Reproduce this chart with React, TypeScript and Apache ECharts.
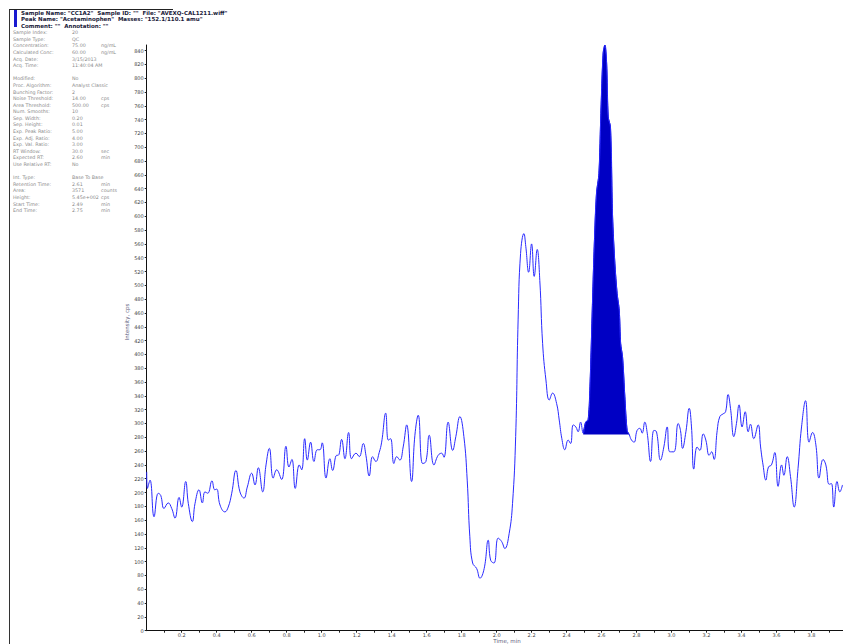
import React, { useEffect, useRef } from "react";
import * as echarts from "echarts";

const times = [
  0.0, 0.004, 0.019, 0.042, 0.066, 0.08, 0.099, 0.123, 0.143, 0.162, 0.185, 0.2, 0.223, 0.238, 0.261, 0.276,
  0.299, 0.318, 0.333, 0.349, 0.373, 0.389, 0.4, 0.419, 0.447, 0.466, 0.486, 0.51, 0.533, 0.556, 0.575, 0.6,
  0.619, 0.638, 0.663, 0.682, 0.701, 0.723, 0.743, 0.771, 0.796, 0.813, 0.83, 0.849, 0.872, 0.886, 0.903, 0.918,
  0.937, 0.956, 0.975, 0.99, 1.003, 1.025, 1.047, 1.063, 1.086, 1.095, 1.114, 1.133, 1.154, 1.171, 1.196, 1.215,
  1.238, 1.253, 1.272, 1.291, 1.31, 1.329, 1.343, 1.366, 1.381, 1.394, 1.413, 1.429, 1.447, 1.466, 1.486, 1.514,
  1.533, 1.552, 1.577, 1.596, 1.615, 1.642, 1.666, 1.686, 1.699, 1.723, 1.749, 1.767, 1.79, 1.813, 1.832, 1.847,
  1.863, 1.886, 1.905, 1.929, 1.952, 1.966, 1.985, 2.009, 2.029, 2.047, 2.072, 2.091, 2.109, 2.123, 2.137, 2.156,
  2.167, 2.183, 2.2, 2.215, 2.232, 2.247, 2.263, 2.282, 2.301, 2.32, 2.343, 2.358, 2.373, 2.39, 2.409, 2.423,
  2.438, 2.453, 2.466, 2.48, 2.495, 2.509, 2.523, 2.533, 2.549, 2.558, 2.571, 2.585, 2.596, 2.609, 2.619, 2.629,
  2.638, 2.651, 2.663, 2.676, 2.689, 2.701, 2.709, 2.72, 2.733, 2.746, 2.758, 2.771, 2.786, 2.803, 2.819, 2.832,
  2.847, 2.861, 2.88, 2.899, 2.914, 2.937, 2.956, 2.975, 2.99, 3.013, 3.038, 3.051, 3.063, 3.082, 3.101, 3.114,
  3.127, 3.146, 3.162, 3.181, 3.196, 3.215, 3.229, 3.243, 3.261, 3.276, 3.295, 3.309, 3.323, 3.337, 3.356, 3.371,
  3.386, 3.403, 3.421, 3.438, 3.451, 3.47, 3.495, 3.509, 3.523, 3.539, 3.554, 3.571, 3.59, 3.609, 3.629, 3.642,
  3.661, 3.68, 3.701, 3.723, 3.743, 3.766, 3.786, 3.806, 3.825, 3.843, 3.866, 3.882, 3.901, 3.914, 3.927, 3.946,
  3.962, 3.977,
];

const intensities = [
  230, 206, 218, 165, 199, 196, 177, 185, 177, 163, 193, 179, 216, 184, 158, 184,
  204, 185, 201, 199, 217, 204, 205, 182, 172, 179, 199, 232, 201, 192, 208, 228,
  211, 236, 201, 240, 264, 221, 233, 219, 267, 237, 248, 206, 240, 233, 278, 247,
  273, 245, 262, 262, 272, 221, 249, 232, 254, 254, 277, 249, 287, 249, 257, 252,
  271, 254, 224, 252, 245, 258, 273, 315, 276, 278, 242, 252, 247, 266, 298, 216,
  283, 312, 242, 245, 283, 240, 254, 257, 251, 302, 261, 281, 310, 281, 218, 136,
  98, 90, 76, 90, 131, 102, 98, 134, 129, 119, 141, 184, 281, 450, 546, 575,
  556, 519, 560, 513, 552, 507, 416, 363, 334, 344, 329, 305, 278, 262, 276, 271,
  298, 295, 288, 302, 286, 302, 305, 348, 483, 556, 633, 662, 749, 836, 848, 821,
  744, 729, 599, 532, 488, 464, 416, 396, 339, 290, 284, 276, 273, 290, 293, 286,
  302, 286, 245, 290, 288, 247, 266, 295, 259, 259, 300, 290, 264, 288, 322, 295,
  234, 266, 261, 285, 276, 254, 259, 248, 290, 310, 314, 317, 342, 322, 281, 300,
  327, 295, 317, 288, 299, 278, 298, 266, 240, 218, 237, 240, 258, 209, 240, 225,
  252, 223, 179, 235, 295, 333, 273, 287, 269, 221, 248, 240, 212, 213, 179, 216,
  201, 211,
];

const peakStart = 2.495;
const peakEnd = 2.758;
const peakBaseline = 284;

const xTickValues = [
  0.1, 0.2, 0.3, 0.4, 0.5, 0.6, 0.7, 0.8, 0.9, 1.0, 1.1, 1.2, 1.3, 1.4, 1.5, 1.6, 1.7, 1.8, 1.9, 2.0,
  2.1, 2.2, 2.3, 2.4, 2.5, 2.6, 2.7, 2.8, 2.9, 3.0, 3.1, 3.2, 3.3, 3.4, 3.5, 3.6, 3.7, 3.8, 3.9,
];
const xLabelValues = [
  0.2, 0.4, 0.6, 0.8, 1.0, 1.2, 1.4, 1.6, 1.8, 2.0, 2.2, 2.4, 2.6, 2.8, 3.0, 3.2, 3.4, 3.6, 3.8,
];
const yTickValues = [
  0, 20, 40, 60, 80, 100, 120, 140, 160, 180, 200, 220, 240, 260, 280, 300, 320, 340, 360, 380, 400, 420,
  440, 460, 480, 500, 520, 540, 560, 580, 600, 620, 640, 660, 680, 700, 720, 740, 760, 780, 800, 820, 840,
];

const headerLines = [
  'Sample Name: "CC1A2"  Sample ID: ""  File: "AVEXQ-CAL1211.wiff"',
  'Peak Name: "Acetaminophen"  Masses: "152.1/110.1 amu"',
  'Comment: ""  Annotation: ""',
];

const infoRows: [string, string, string][] = [
  ["Sample Index:", "20", ""],
  ["Sample Type:", "QC", ""],
  ["Concentration:", "75.00", "ng/mL"],
  ["Calculated Conc:", "60.00", "ng/mL"],
  ["Acq. Date:", "3/15/2013", ""],
  ["Acq. Time:", "11:40:04 AM", ""],
  ["", "", ""],
  ["Modified:", "No", ""],
  ["Proc. Algorithm:", "Analyst Classic", ""],
  ["Bunching Factor:", "2", ""],
  ["Noise Threshold:", "14.00", "cps"],
  ["Area Threshold:", "500.00", "cps"],
  ["Num. Smooths:", "10", ""],
  ["Sep. Width:", "0.20", ""],
  ["Sep. Height:", "0.01", ""],
  ["Exp. Peak Ratio:", "5.00", ""],
  ["Exp. Adj. Ratio:", "4.00", ""],
  ["Exp. Val. Ratio:", "3.00", ""],
  ["RT Window:", "30.0", "sec"],
  ["Expected RT:", "2.60", "min"],
  ["Use Relative RT:", "No", ""],
  ["", "", ""],
  ["Int. Type:", "Base To Base", ""],
  ["Retention Time:", "2.61", "min"],
  ["Area:", "3571", "counts"],
  ["Height:", "5.45e+002", "cps"],
  ["Start Time:", "2.49", "min"],
  ["End Time:", "2.75", "min"],
];

export default function App() {
  const ref = useRef<HTMLDivElement>(null);

  useEffect(() => {
    document.body.style.margin = "0";
    const chart = echarts.init(ref.current!, null, { renderer: "svg" });

    const lineData = times.map((t, i) => [t, intensities[i]]);
    const peakData = lineData.filter((d) => d[0] >= peakStart - 1e-9 && d[0] <= peakEnd + 1e-9);

    const font = "DejaVu Sans";
    const graphics: any[] = [];

    graphics.push({
      type: "line",
      shape: { x1: 9.5, y1: 9, x2: 9.5, y2: 644 },
      style: { stroke: "#333", lineWidth: 1 },
    });
    graphics.push({
      type: "line",
      shape: { x1: 9.5, y1: 9.5, x2: 173, y2: 9.5 },
      style: { stroke: "#222", lineWidth: 1 },
    });
    graphics.push({
      type: "rect",
      shape: { x: 14, y: 10, width: 3, height: 17 },
      style: { fill: "#1a1ad0" },
    });
    headerLines.forEach((txt, i) => {
      graphics.push({
        type: "text",
        x: 21,
        y: 12.5 + i * 6.6,
        style: {
          text: txt,
          fontSize: 5.5,
          fontWeight: "bold",
          fontFamily: font,
          fill: "#1a1a3a",
          verticalAlign: "middle",
        },
      });
    });
    infoRows.forEach((row, i) => {
      const y = 32.7 + i * 6.59;
      const cols = [13, 72, 101];
      row.forEach((txt, j) => {
        if (!txt) return;
        graphics.push({
          type: "text",
          x: cols[j],
          y,
          style: {
            text: txt,
            fontSize: 4.8,
            fontFamily: font,
            fill: "#8a8a8a",
            verticalAlign: "middle",
          },
        });
      });
    });
    graphics.push({
      type: "text",
      x: 127,
      y: 322,
      rotation: Math.PI / 2,
      style: {
        text: "Intensity, cps",
        fontSize: 5.5,
        fontFamily: font,
        fill: "#5a5a7a",
        align: "center",
        verticalAlign: "middle",
      },
    });
    graphics.push({
      type: "text",
      x: 507,
      y: 641,
      style: {
        text: "Time, min",
        fontSize: 5.5,
        fontFamily: font,
        fill: "#5a5a7a",
        align: "center",
        verticalAlign: "middle",
      },
    });

    chart.setOption({
      animation: false,
      backgroundColor: "#ffffff",
      grid: { left: 146.7, right: 0, top: 45, bottom: 13.3, containLabel: false },
      xAxis: {
        type: "value",
        min: 0,
        max: 3.98,
        axisLine: { show: true, lineStyle: { color: "#111", width: 1 } },
        axisTick: { show: true, customValues: xTickValues, length: 2, lineStyle: { color: "#222" } },
        axisLabel: {
          customValues: xLabelValues,
          fontSize: 5,
          color: "#444",
          margin: 2,
          fontFamily: font,
          formatter: (v: number) => v.toFixed(1),
        },
        splitLine: { show: false },
      },
      yAxis: {
        type: "value",
        min: 0,
        max: 848,
        axisLine: { show: true, lineStyle: { color: "#111", width: 1 } },
        axisTick: { show: true, customValues: yTickValues, length: 2, lineStyle: { color: "#222" } },
        axisLabel: {
          customValues: yTickValues,
          fontSize: 5,
          color: "#444",
          margin: 3,
          fontFamily: font,
        },
        splitLine: { show: false },
      },
      series: [
        {
          type: "line",
          data: peakData,
          showSymbol: false,
          smooth: 0.2,
          lineStyle: { color: "#0000c4", width: 1 },
          areaStyle: { color: "#0000c4", opacity: 1, origin: peakBaseline },
          z: 2,
        },
        {
          type: "line",
          data: lineData,
          showSymbol: false,
          smooth: 0.45,
          lineStyle: { color: "#2a2aff", width: 1 },
          z: 3,
        },
      ],
      graphic: graphics,
    });

    return () => chart.dispose();
  }, []);

  return <div ref={ref} style={{ width: 843, height: 644 }} />;
}
